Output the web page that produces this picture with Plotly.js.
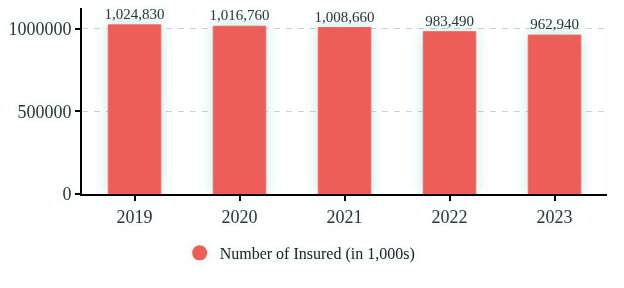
<!DOCTYPE html>
<html>
<head>
<meta charset="utf-8">
<script src="https://cdn.plot.ly/plotly-3.0.1.min.js"></script>
<style>
html,body{margin:0;padding:0;background:#fff;}
#chart{width:624px;height:288px;}
.bars .point path{filter:drop-shadow(0 0 7px rgba(60,200,190,0.35));}
.bars .point text, .xtick text, .ytick text, .legendtext, .legendpoints path{filter:drop-shadow(0 0 4px rgba(60,200,190,0.25));}
</style>
</head>
<body>
<div id="chart"></div>
<script>
const years = ['2019', '2020', '2021', '2022', '2023'];
const insured = [1024830, 1016760, 1008660, 983490, 962940];
const labels = ['1,024,830', '1,016,760', '1,008,660', '983,490', '962,940'];
const seriesName = 'Number of Insured (in 1,000s)';
const barColor = '#EC5E57';

const traces = [
  {
    type: 'bar',
    x: years,
    y: insured,
    text: labels,
    textposition: 'outside',
    constraintext: 'none',
    cliponaxis: false,
    textfont: {family: 'Liberation Serif', size: 15, color: '#333'},
    marker: {color: barColor, line: {color: '#F4665E', width: 1}},
    width: 0.5,
    showlegend: false,
    hoverinfo: 'none'
  },
  {
    type: 'scatter',
    mode: 'markers',
    x: [null],
    y: [null],
    name: seriesName,
    marker: {color: barColor, size: 15, symbol: 'circle'},
    showlegend: true
  }
];

const layout = {
  width: 624,
  height: 288,
  margin: {l: 82, r: 17, t: 8, b: 94},
  paper_bgcolor: '#fff',
  plot_bgcolor: '#fff',
  font: {family: 'Liberation Serif', size: 18, color: '#333'},
  xaxis: {
    type: 'category',
    showline: true,
    linecolor: '#000',
    linewidth: 2,
    ticks: 'outside',
    ticklen: 5,
    tickwidth: 2,
    tickcolor: '#000',
    showgrid: false,
    tickfont: {size: 18, color: '#333'}
  },
  yaxis: {
    range: [0, 1127000],
    tickvals: [0, 500000, 1000000],
    ticktext: ['0', '500000', '1000000'],
    showline: true,
    linecolor: '#000',
    linewidth: 2,
    ticks: 'outside',
    ticklen: 5,
    tickwidth: 2,
    tickcolor: '#000',
    showgrid: true,
    gridcolor: '#d0d0d0',
    griddash: '6px,6px',
    gridwidth: 1,
    zeroline: false,
    tickfont: {size: 18, color: '#333'}
  },
  showlegend: true,
  legend: {
    orientation: 'h',
    x: 0.186,
    xanchor: 'left',
    y: -0.317,
    yanchor: 'middle',
    font: {size: 16, color: '#222'},
    bgcolor: 'rgba(0,0,0,0)'
  },
  bargap: 0.5
};

Plotly.newPlot('chart', traces, layout, {displayModeBar: false, staticPlot: true});
</script>
</body>
</html>
